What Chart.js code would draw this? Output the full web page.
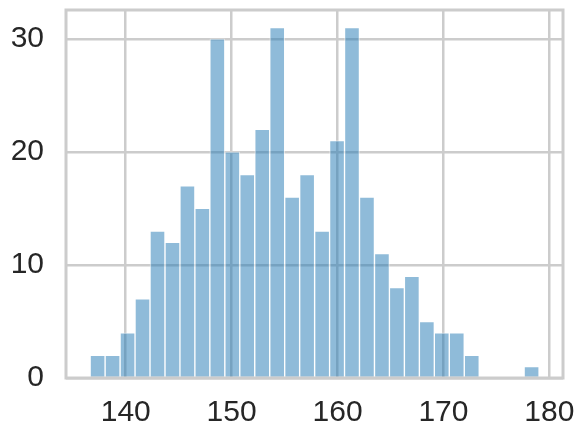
<!DOCTYPE html>
<html>
<head>
<meta charset="utf-8">
<script src="https://cdn.jsdelivr.net/npm/chart.js@4"></script>
<style>
  html, body { margin: 0; padding: 0; background: #fff; overflow: hidden; }
  #wrap { width: 584px; height: 440px; position: relative; }
  canvas { display: block; }
</style>
</head>
<body>
<div id="wrap"><canvas id="hist"></canvas></div>
<script>
// histogram bins
const binEdges = [136.64, 138.05, 139.47, 140.88, 142.29, 143.71, 145.12, 146.53, 147.94, 149.36,
  150.77, 152.18, 153.60, 155.01, 156.42, 157.84, 159.25, 160.66, 162.07, 163.49,
  164.90, 166.31, 167.73, 169.14, 170.55, 171.97, 173.38, 174.79, 176.20, 177.62, 179.03];
const counts = [2, 2, 4, 7, 13, 12, 17, 15, 30, 20,
  18, 22, 31, 16, 18, 13, 21, 31, 16, 11,
  8, 9, 5, 4, 4, 2, 0, 0, 0, 1];
const xTicks = [140, 150, 160, 170, 180];
const yTicks = [0, 10, 20, 30];

const points = counts.map((c, i) => ({ x: (binEdges[i] + binEdges[i + 1]) / 2, y: c }));

const gridColor = "#cccccc";
const textColor = "#262626";
const tickFont = { family: "Liberation Sans, Arial, sans-serif", size: 30 };

// seaborn-style box round the plot area
const framePlugin = {
  id: "frame",
  afterDatasetsDraw(chart) {
    const { ctx, chartArea: a } = chart;
    ctx.save();
    ctx.strokeStyle = gridColor;
    ctx.lineWidth = 3;
    ctx.strokeRect(a.left, a.top, a.right - a.left, a.bottom - a.top);
    ctx.restore();
  },
};

new Chart(document.getElementById("hist"), {
  type: "bar",
  data: {
    datasets: [
      {
        data: points,
        backgroundColor: "rgba(31, 119, 180, 0.5)",
        borderColor: "rgba(255, 255, 255, 0.5)",
        borderWidth: 1,
        barPercentage: 1,
        categoryPercentage: 1,
      },
    ],
  },
  options: {
    responsive: true,
    maintainAspectRatio: false,
    animation: false,
    layout: { padding: { left: 0, right: 21, top: 10, bottom: 0 } },
    plugins: { legend: { display: false }, tooltip: { enabled: false } },
    scales: {
      x: {
        type: "linear",
        offset: false,
        min: 134.36,
        max: 181.29,
        afterBuildTicks(scale) {
          scale.ticks = xTicks.map((v) => ({ value: v }));
        },
        afterFit(scale) {
          scale.height = 62;
          scale.paddingLeft = 0;
          scale.paddingRight = 0;
        },
        ticks: { color: textColor, font: tickFont, padding: 17, maxRotation: 0 },
        grid: { color: gridColor, lineWidth: 2.5, drawTicks: false, offset: false },
        border: { display: false },
      },
      y: {
        min: 0,
        max: 32.55,
        afterBuildTicks(scale) {
          scale.ticks = yTicks.map((v) => ({ value: v }));
        },
        afterFit(scale) {
          scale.width = 66;
          scale.paddingTop = 0;
          scale.paddingBottom = 0;
        },
        ticks: { color: textColor, font: tickFont, padding: 22 },
        grid: { color: gridColor, lineWidth: 2.5, drawTicks: false },
        border: { display: false },
      },
    },
  },
  plugins: [framePlugin],
});
</script>
</body>
</html>
